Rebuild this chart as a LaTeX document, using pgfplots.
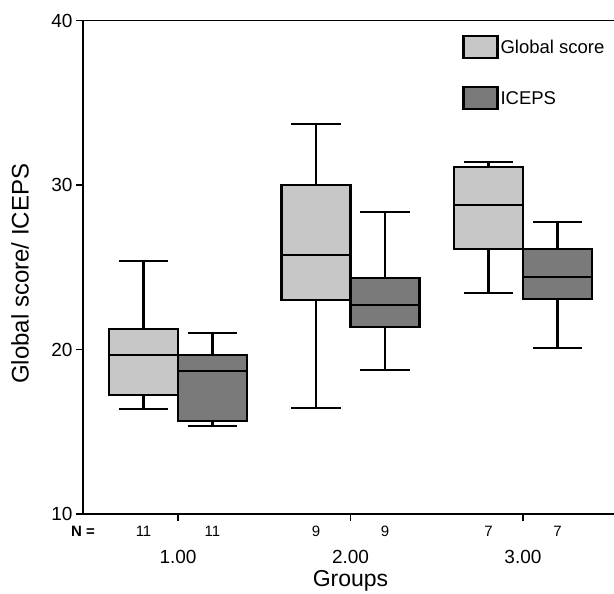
\documentclass[border=0pt]{standalone}
\usepackage{fontspec}
\setmainfont{Liberation Sans}
\usepackage{pgfplots}
\pgfplotsset{compat=1.18}
\usepgfplotslibrary{statistics}
\definecolor{globalfill}{RGB}{199,199,199}
\definecolor{icepsfill}{RGB}{122,122,122}
\begin{document}
\begin{tikzpicture}
\useasboundingbox (0pt,0pt) rectangle (614pt,594pt);
\begin{axis}[
  at={(83pt,80pt)}, anchor=south west,
  scale only axis, width=535pt, height=493.5pt,
  xmin=0.449, xmax=3.551, ymin=10, ymax=40,
  clip=false,
  axis line style={line width=1.8pt},
  xtick={1,2,3}, xticklabels={1.00,2.00,3.00},
  ytick={10,20,30,40},
  xtick pos=left, ytick pos=left,
  tick align=outside, major tick length=7pt,
  tick style={line width=1.8pt, black},
  /pgf/number format/assume math mode=true,
  yticklabel style={font=\fontsize{19}{21}\selectfont},
  xticklabel style={font=\fontsize{19}{21}\selectfont, yshift=-26pt},
  ylabel={Global score/ ICEPS},
  ylabel style={font=\fontsize{24}{26}\selectfont, at={(axis description cs:-0.1176,0.487)}, anchor=center},
  xlabel={Groups},
  xlabel style={font=\fontsize{23}{25}\selectfont, at={(axis description cs:0.5,-0.136)}, anchor=center},
  legend image code/.code={\draw[#1] (0pt,-11pt) rectangle (34pt,11pt);},
  legend style={draw=none, fill=none, at={(axis description cs:0.703,0.975)}, anchor=north west,
    font=\fontsize{18.5}{21}\selectfont, row sep=27pt, cells={anchor=west, xshift=3pt}},
  boxplot/draw direction=y,
]
% group 1.00
\addplot[draw=black, fill=globalfill, line width=2.2pt, boxplot prepared={draw position=0.8,
  lower whisker=16.38, lower quartile=17.23, median=19.65, upper quartile=21.23, upper whisker=25.40,
  box extend=0.4, whisker extend=0.285}] coordinates {};
\addplot[draw=black, fill=icepsfill, line width=2.2pt, boxplot prepared={draw position=1.2,
  lower whisker=15.37, lower quartile=15.67, median=18.71, upper quartile=19.65, upper whisker=21.02,
  box extend=0.4, whisker extend=0.285}] coordinates {};
% group 2.00
\addplot[draw=black, fill=globalfill, line width=2.2pt, boxplot prepared={draw position=1.8,
  lower whisker=16.44, lower quartile=23.01, median=25.74, upper quartile=30.00, upper whisker=33.69,
  box extend=0.4, whisker extend=0.285}] coordinates {};
\addplot[draw=black, fill=icepsfill, line width=2.2pt, boxplot prepared={draw position=2.2,
  lower whisker=18.75, lower quartile=21.35, median=22.71, upper quartile=24.36, upper whisker=28.34,
  box extend=0.4, whisker extend=0.285}] coordinates {};
% group 3.00
\addplot[draw=black, fill=globalfill, line width=2.2pt, boxplot prepared={draw position=2.8,
  lower whisker=23.45, lower quartile=26.09, median=28.78, upper quartile=31.11, upper whisker=31.42,
  box extend=0.4, whisker extend=0.285}] coordinates {};
\addplot[draw=black, fill=icepsfill, line width=2.2pt, boxplot prepared={draw position=3.2,
  lower whisker=20.11, lower quartile=23.05, median=24.39, upper quartile=26.09, upper whisker=27.77,
  box extend=0.4, whisker extend=0.285}] coordinates {};
\legend{Global score, ICEPS}

% case counts below the axis
\node[font=\bfseries\fontsize{15}{17}\selectfont] at (axis cs:0.449,10) [yshift=-17pt] {N =};
\node[font=\fontsize{15}{17}\selectfont] at (axis cs:0.8,10) [yshift=-17pt] {11};
\node[font=\fontsize{15}{17}\selectfont] at (axis cs:1.2,10) [yshift=-17pt] {11};
\node[font=\fontsize{15}{17}\selectfont] at (axis cs:1.8,10) [yshift=-17pt] {9};
\node[font=\fontsize{15}{17}\selectfont] at (axis cs:2.2,10) [yshift=-17pt] {9};
\node[font=\fontsize{15}{17}\selectfont] at (axis cs:2.8,10) [yshift=-17pt] {7};
\node[font=\fontsize{15}{17}\selectfont] at (axis cs:3.2,10) [yshift=-17pt] {7};
\end{axis}
\end{tikzpicture}
\end{document}
